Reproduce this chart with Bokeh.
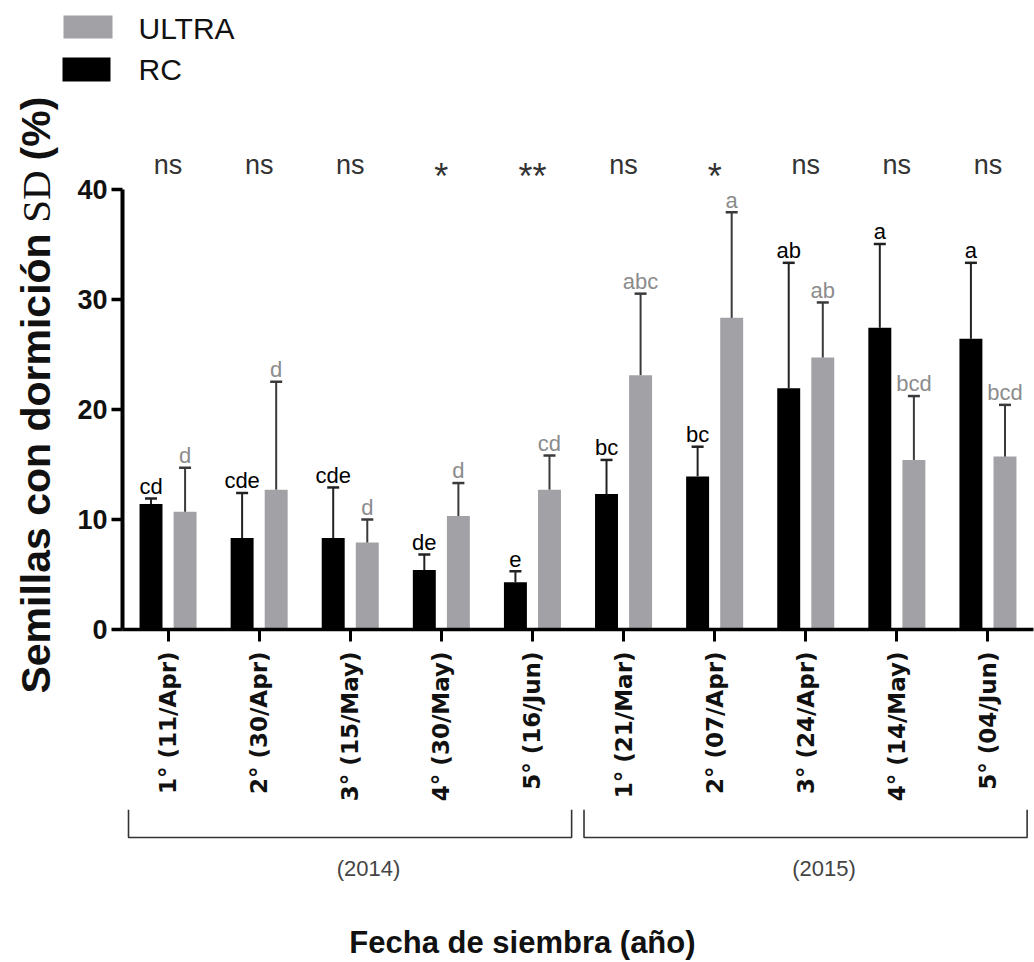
import math
from bokeh.plotting import figure
from bokeh.layouts import column, row
from bokeh.models import (FactorRange, Range1d, ColumnDataSource, Whisker, TeeHead, FixedTicker)
from bokeh.transform import dodge
from bokeh.core.properties import value
from bokeh.embed import file_html
from bokeh.resources import INLINE

# ---- data ----
dates = ["1° (11/Apr)", "2° (30/Apr)", "3° (15/May)", "4° (30/May)", "5° (16/Jun)",
         "1° (21/Mar)", "2° (07/Apr)", "3° (24/Apr)", "4° (14/May)", "5° (04/Jun)"]
years = ["(2014)", "(2015)"]
rc_mean = [11.4, 8.3, 8.3, 5.4, 4.3, 12.3, 13.9, 21.9, 27.4, 26.4]
rc_sd = [0.5, 4.1, 4.6, 1.4, 1.0, 3.1, 2.7, 11.4, 7.6, 6.9]
ultra_mean = [10.7, 12.7, 7.9, 10.3, 12.7, 23.1, 28.3, 24.7, 15.4, 15.7]
ultra_sd = [4.0, 9.8, 2.1, 3.0, 3.1, 7.4, 9.6, 5.0, 5.8, 4.7]
rc_letters = ["cd", "cde", "cde", "de", "e", "bc", "bc", "ab", "a", "a"]
ultra_letters = ["d", "d", "d", "d", "cd", "abc", "a", "ab", "bcd", "bcd"]
significance = ["ns", "ns", "ns", "*", "**", "ns", "*", "ns", "ns", "ns"]
y_ticks = [0, 10, 20, 30, 40]
series_names = ["ULTRA", "RC"]
y_title_parts = ["Semillas con dormición", "SD", "(%)"]
x_title = "Fecha de siembra (año)"

RC_COLOR = "#000000"
ULTRA_COLOR = "#a2a2a6"
SANS = "Liberation Sans"
TXT = "#111111"

W_TOTAL, H_TOTAL = 1034, 962
TOP_H = 86
MAIN_H = 723
BOT_H = H_TOTAL - TOP_H - MAIN_H
YT_W = 62
LABEL_PAD = 1.1  # data units between cap and letter label centre


def blank(width, height, x_range, y_range):
    f = figure(width=width, height=height, x_range=x_range, y_range=y_range,
               output_backend="svg", toolbar_location=None,
               x_axis_location=None, y_axis_location=None, min_border=0)
    f.grid.visible = False
    f.outline_line_color = None
    f.background_fill_color = "white"
    f.border_fill_color = "white"
    f.frame_align = False
    return f


# ---------------- main chart ----------------
source = ColumnDataSource(dict(
    date=dates,
    rc=rc_mean,
    rc_top=[m + s for m, s in zip(rc_mean, rc_sd)],
    rc_lab=[m + s + LABEL_PAD for m, s in zip(rc_mean, rc_sd)],
    ultra=ultra_mean,
    ultra_top=[m + s for m, s in zip(ultra_mean, ultra_sd)],
    ultra_lab=[m + s + LABEL_PAD for m, s in zip(ultra_mean, ultra_sd)],
    rc_let=rc_letters,
    ultra_let=ultra_letters,
))
ns_idx = [i for i, s in enumerate(significance) if "*" not in s]
st_idx = [i for i, s in enumerate(significance) if "*" in s]
ns_src = ColumnDataSource(dict(date=[dates[i] for i in ns_idx], t=[significance[i] for i in ns_idx]))
st_src = ColumnDataSource(dict(date=[dates[i] for i in st_idx], t=[significance[i] for i in st_idx]))

p = figure(x_range=FactorRange(factors=dates, range_padding=0),
           y_range=Range1d(0, 43.5),
           width=W_TOTAL - YT_W, height=MAIN_H, output_backend="svg", toolbar_location=None,
           min_border_left=60, min_border_right=1, min_border_top=64,
           min_border_bottom=180)
p.outline_line_color = None
p.grid.visible = False
p.background_fill_color = "white"
p.border_fill_color = "white"
p.frame_align = False

OFF = 0.187
W = 0.252

p.vbar(x=dodge("date", -OFF, range=p.x_range), top="rc", width=W, source=source,
       fill_color=RC_COLOR, line_color=None)
p.vbar(x=dodge("date", OFF, range=p.x_range), top="ultra", width=W, source=source,
       fill_color=ULTRA_COLOR, line_color=None)

for off, lo, hi, col in [(-OFF, "rc", "rc_top", "#222222"), (OFF, "ultra", "ultra_top", "#3a3a3a")]:
    wk = Whisker(base=dodge("date", off, range=p.x_range), lower=lo, upper=hi, source=source,
                 line_color=col, line_width=2, lower_head=None,
                 upper_head=TeeHead(size=12, line_color=col, line_width=2.5), level="glyph")
    p.add_layout(wk)

p.text(x=dodge("date", -OFF, range=p.x_range), y="rc_lab", text="rc_let", source=source,
       text_align="center", text_baseline="middle",
       text_font=value(SANS), text_font_size="22px", text_color="#000000")
p.text(x=dodge("date", OFF, range=p.x_range), y="ultra_lab", text="ultra_let", source=source,
       text_align="center", text_baseline="middle",
       text_font=value(SANS), text_font_size="22px", text_color="#8c8c8c")

p.text(x="date", y=42.2, text="t", source=ns_src, text_align="center",
       text_baseline="middle", text_font=value(SANS), text_font_size="27px",
       text_color="#333333")
p.text(x="date", y=41.15, text="t", source=st_src, text_align="center",
       text_baseline="middle", text_font=value(SANS), text_font_size="36px",
       text_color="#333333")

p.yaxis.bounds = (0, 40)
p.yaxis.ticker = FixedTicker(ticks=y_ticks)
p.yaxis.minor_tick_line_color = None
p.yaxis.axis_line_width = 4
p.yaxis.major_tick_line_width = 3.5
p.yaxis.major_tick_out = 11
p.yaxis.major_tick_in = 0
p.yaxis.major_label_standoff = 4
p.yaxis.major_label_text_font = SANS
p.yaxis.major_label_text_font_style = "bold"
p.yaxis.major_label_text_font_size = "27px"
p.yaxis.major_label_text_color = TXT

p.xaxis.axis_line_width = 3.5
p.xaxis.major_tick_line_width = 3
p.xaxis.major_tick_out = 12
p.xaxis.major_tick_in = 0
p.xaxis.major_label_orientation = math.pi / 2
p.xaxis.major_label_standoff = 10
p.xaxis.major_label_text_font = "DejaVu Sans"
p.xaxis.major_label_text_font_style = "bold"
p.xaxis.major_label_text_font_size = "23px"
p.xaxis.major_label_text_color = TXT

# ---------------- y title (left strip, pixel coordinates measured up from its bottom) ----------------
y_bottom = TOP_H + MAIN_H
yt = blank(YT_W, MAIN_H, Range1d(0, YT_W), Range1d(0, MAIN_H))
for txt, cy, font, style in [(y_title_parts[0], 463, SANS, "bold"),
                             (y_title_parts[1], 196, "Liberation Serif", "normal"),
                             (y_title_parts[2], 128, SANS, "bold")]:
    yt.text(x=[35], y=[y_bottom - cy], text=[txt], angle=math.pi / 2,
            text_align="center", text_baseline="middle", text_font=value(font),
            text_font_style=style, text_font_size="41px", text_color=TXT)

# ---------------- legend (top strip, pixel coordinates, y downward) ----------------
top = blank(W_TOTAL, TOP_H, Range1d(0, W_TOTAL), Range1d(TOP_H, 0))
top.quad(left=[63, 62], right=[112, 110], top=[15, 57], bottom=[38, 81],
         fill_color=[ULTRA_COLOR, RC_COLOR], line_color=None)
top.text(x=[138, 138], y=[28, 69], text=series_names, text_align="left",
         text_baseline="middle", text_font=value(SANS), text_font_size="30px",
         text_color=TXT)

# ---------------- brackets / years / x title (bottom strip) ----------------
px_per_unit = (W_TOTAL - 122 - 1) / len(dates)
bx0 = -122 / px_per_unit
bot = blank(W_TOTAL, BOT_H, Range1d(bx0, bx0 + W_TOTAL / px_per_unit), Range1d(BOT_H, 0))
groups = [(0, 4), (5, 9)]
bxs, bys = [], []
for a, b in groups:
    xl, xr = a + 0.066, b + 0.93
    bxs.append([xl, xl, xr, xr])
    bys.append([0, 28, 28, 0])
bot.multi_line(xs=bxs, ys=bys, line_color="#333333", line_width=1.6)
bot.text(x=[(a + b + 1) / 2 + 0.2 for a, b in groups], y=[59, 59], text=years,
         text_align="center", text_baseline="middle", text_font=value(SANS),
         text_font_size="22px", text_color="#444444")
bot.text(x=[4.39], y=[133], text=[x_title], text_align="center", text_baseline="middle",
         text_font=value(SANS), text_font_style="bold", text_font_size="31px",
         text_color=TXT)

layout = column(top, row(yt, p), bot)
open("out.html", "w").write(file_html(layout, INLINE))
